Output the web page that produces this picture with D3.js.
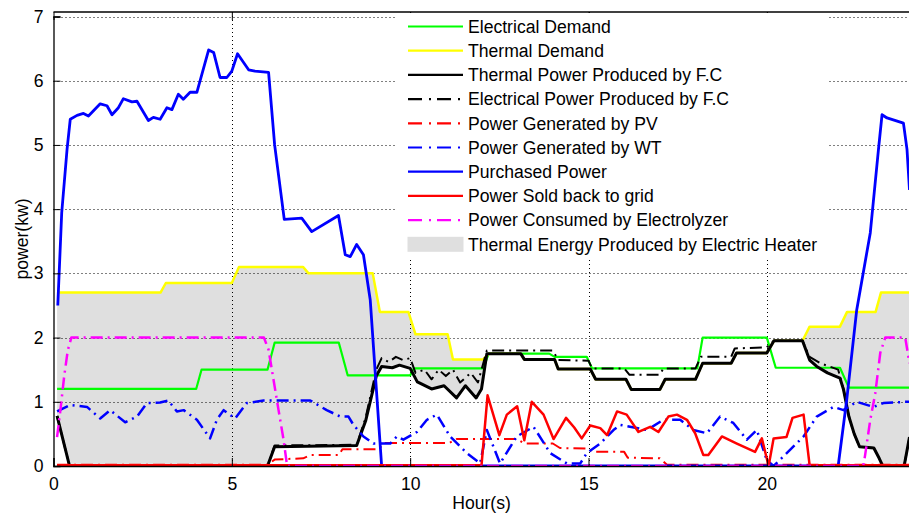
<!DOCTYPE html>
<html>
<head>
<meta charset="utf-8">
<script src="https://cdn.jsdelivr.net/npm/d3@7"></script>
<style>
  body { margin: 0; background: #fff; }
  svg { display: block; font-family: "Liberation Sans", Arial, sans-serif; }
</style>
</head>
<body>
<svg id="chart" width="909" height="514"></svg>
<script>
// values, [hour, kW]
var electricalDemand = [[0.1,1.2],[4.0,1.2],[4.15,1.5],[6.0,1.5],[6.2,1.92],[8.0,1.92],[8.25,1.41],[10.0,1.41],[10.1,1.52],[12.05,1.52],[12.2,1.75],[13.9,1.75],[14.05,1.7],[14.95,1.7],[15.1,1.52],[18.05,1.52],[18.2,2.0],[20.0,2.0],[20.25,1.53],[22.05,1.53],[22.3,1.22],[24,1.22]];
var thermalDemand = [[0.1,2.7],[3.0,2.7],[3.15,2.85],[5.0,2.85],[5.2,3.1],[7.0,3.1],[7.15,3.0],[8.95,3.0],[9.15,2.4],[9.95,2.4],[10.15,2.05],[11.05,2.05],[11.2,1.66],[12.05,1.66],[12.2,1.75],[13.1,1.75],[13.2,1.66],[14.05,1.66],[14.15,1.51],[15.05,1.51],[15.2,1.35],[16.05,1.35],[16.2,1.19],[17.0,1.19],[17.15,1.35],[18.0,1.35],[18.2,1.6],[19.0,1.6],[19.15,1.76],[20.0,1.76],[20.2,1.95],[21.0,1.95],[21.2,2.17],[22.05,2.17],[22.25,2.4],[23.05,2.4],[23.2,2.7],[24,2.7]];
var thermalFC = [[0.1,0.78],[0.18,0.6],[0.45,0],[6.0,0],[6.2,0.3],[8.5,0.32],[8.75,0.7],[9.05,1.4],[9.2,1.55],[9.5,1.53],[9.7,1.57],[10.0,1.52],[10.2,1.31],[10.6,1.2],[10.95,1.25],[11.3,1.06],[11.55,1.25],[11.85,1.06],[12.0,1.2],[12.15,1.75],[13.1,1.75],[13.2,1.66],[14.05,1.66],[14.15,1.51],[15.05,1.51],[15.2,1.35],[16.05,1.35],[16.2,1.19],[17.0,1.19],[17.15,1.35],[18.0,1.35],[18.2,1.6],[19.0,1.6],[19.15,1.76],[20.0,1.76],[20.2,1.95],[21.0,1.95],[21.2,1.65],[21.4,1.55],[21.7,1.45],[22.05,1.37],[22.15,1.19],[22.3,0.77],[22.45,0.5],[22.6,0.3],[23.0,0.28],[23.15,0.12],[23.25,0],[23.85,0],[24,0.45]];
var electricalFC = [[0.1,0.78],[0.18,0.6],[0.45,0],[6.0,0],[6.2,0.32],[8.5,0.33],[8.75,0.75],[9.05,1.5],[9.2,1.68],[9.4,1.62],[9.6,1.7],[9.8,1.65],[10.0,1.68],[10.15,1.45],[10.4,1.5],[10.6,1.35],[10.8,1.5],[11.0,1.4],[11.2,1.5],[11.4,1.3],[11.7,1.45],[11.9,1.3],[12.15,1.8],[14.0,1.8],[14.15,1.65],[15.0,1.64],[15.1,1.52],[16.0,1.52],[16.15,1.42],[17.0,1.42],[17.1,1.52],[18.0,1.52],[18.15,1.7],[19.0,1.7],[19.1,1.83],[20.0,1.85],[20.2,1.95],[21.0,1.95],[21.2,1.7],[21.5,1.6],[22.0,1.5],[22.15,1.2],[22.3,0.77],[22.45,0.5],[22.6,0.3],[23.0,0.28],[23.15,0.12],[23.25,0],[23.85,0],[24,0.45]];
var pvPower = [[0.1,0.02],[6.0,0.02],[6.2,0.1],[7.0,0.12],[7.2,0.17],[8.0,0.17],[8.1,0.26],[9.1,0.26],[9.3,0.36],[11.1,0.36],[11.3,0.42],[13.0,0.42],[13.2,0.35],[14.0,0.35],[14.2,0.28],[15.0,0.27],[15.1,0.22],[16.0,0.22],[16.1,0.13],[17.0,0.12],[17.2,0.02],[24,0.02]];
var wtPower = [[0.1,0.85],[0.47,0.95],[0.94,0.92],[1.31,0.74],[1.59,0.87],[2.01,0.68],[2.34,0.77],[2.62,0.98],[2.99,0.99],[3.22,1.02],[3.46,0.85],[3.65,0.87],[4.02,0.72],[4.39,0.43],[4.58,0.72],[4.77,0.87],[5.09,0.74],[5.42,0.98],[5.89,1.02],[7.2,1.02],[7.66,0.87],[8.04,0.77],[8.27,0.77],[8.41,0.64],[8.69,0.46],[8.97,0.35],[9.44,0.35],[9.63,0.46],[9.81,0.41],[10.19,0.53],[10.47,0.72],[10.75,0.8],[11.12,0.46],[11.59,0.2],[11.96,0.04],[12.15,0.56],[12.52,0.04],[12.99,0.46],[13.46,0.61],[13.93,0.2],[14.39,0.04],[14.77,0.04],[14.95,0.2],[15.33,0.35],[15.7,0.56],[15.89,0.64],[16.64,0.56],[17.1,0.72],[17.57,0.72],[17.94,0.56],[18.32,0.51],[18.69,0.77],[19.06,0.67],[19.44,0.41],[19.72,0.56],[20.0,0.09],[20.19,0],[20.65,0.25],[21.03,0.46],[21.4,0.77],[21.87,0.92],[22.15,0.87],[22.52,1.0],[22.99,0.92],[23.27,0.98],[23.92,1.0],[24,1.0]];
var purchased = [[0.12,2.5],[0.23,3.94],[0.38,4.93],[0.47,5.4],[0.66,5.46],[0.84,5.49],[0.98,5.45],[1.31,5.64],[1.5,5.61],[1.64,5.47],[1.82,5.58],[1.96,5.72],[2.2,5.67],[2.34,5.68],[2.66,5.38],[2.8,5.43],[2.99,5.4],[3.18,5.58],[3.32,5.55],[3.5,5.79],[3.64,5.71],[3.83,5.82],[4.02,5.82],[4.35,6.48],[4.49,6.44],[4.67,6.05],[4.86,6.05],[5.0,6.15],[5.16,6.42],[5.47,6.17],[5.65,6.15],[6.03,6.13],[6.2,5.0],[6.47,3.84],[6.96,3.86],[7.24,3.65],[7.99,3.9],[8.18,3.29],[8.32,3.26],[8.5,3.45],[8.69,3.29],[8.88,2.59],[9.2,0],[22.0,0],[22.24,1.03],[22.52,2.43],[22.9,3.63],[23.13,4.93],[23.23,5.47],[23.37,5.42],[23.83,5.34],[23.93,4.93],[24,4.3]];
var soldBack = [[0.1,0.01],[12.0,0.01],[12.17,1.1],[12.5,0.48],[12.71,0.8],[13.0,0.93],[13.2,0.4],[13.41,1.0],[13.74,0.8],[14.02,0.42],[14.37,0.75],[14.6,0.6],[14.81,0.43],[15.05,0.63],[15.33,0.59],[15.52,0.48],[15.8,0.85],[16.07,0.8],[16.4,0.53],[16.73,0.61],[16.96,0.53],[17.24,0.77],[17.48,0.8],[17.76,0.72],[17.99,0.51],[18.22,0.17],[18.36,0.17],[18.74,0.46],[19.16,0.35],[19.67,0.22],[19.86,0.43],[20.05,0],[20.19,0.43],[20.55,0.45],[20.72,0.75],[21.03,0.8],[21.2,0.01],[24,0.01]];
var electrolyzer = [[0.1,0.45],[0.2,0.9],[0.3,1.4],[0.4,1.8],[0.5,2.0],[5.9,2.0],[6.03,1.81],[6.17,1.34],[6.31,0.87],[6.45,0.41],[6.55,0],[22.7,0],[22.75,0.15],[22.9,0.72],[23.04,1.13],[23.18,1.76],[23.32,2.0],[23.88,2.0],[24,1.6]];

var xTicks = [0, 5, 10, 15, 20];
var yTicks = [0, 1, 2, 3, 4, 5, 6, 7];

var legendLabels = ["Electrical Demand", "Thermal Demand", "Thermal Power Produced by F.C",
  "Electrical Power Produced by F.C", "Power Generated by PV", "Power Generated by WT",
  "Purchased Power", "Power Sold back to grid", "Power Consumed by Electrolyzer",
  "Thermal Energy Produced by Electric Heater"];

// series in plotting order, styles kept apart from the values
var series = [
  { data: electricalDemand, color: "#00ff00", width: 2.2, dash: null },
  { data: thermalDemand, color: "#ffff00", width: 2.5, dash: null },
  { data: thermalFC, color: "#000000", width: 3, dash: null },
  { data: electricalFC, color: "#000000", width: 2, dash: "12,5,2,5" },
  { data: pvPower, color: "#ff0000", width: 2, dash: "12,5,2,5" },
  { data: wtPower, color: "#0000ff", width: 2.5, dash: "12,5,2,5" },
  { data: purchased, color: "#0000ff", width: 2.8, dash: null },
  { data: soldBack, color: "#ff0000", width: 2.5, dash: null },
  { data: electrolyzer, color: "#ff00ff", width: 2.5, dash: "12,5,2,5" }
];

var svg = d3.select("#chart");

// plot box (names avoid window.top)
var boxLeft = 53.5, boxRight = 909.5, boxTop = 12, boxBottom = 466;
var fontSize = "17.6px";

var x = d3.scaleLinear().domain([0, 24]).range([boxLeft, boxRight]);
var y = d3.scaleLinear().domain([0, 7]).range([boxBottom, 16.5]);

svg.append("defs").append("clipPath").attr("id", "plotclip")
  .append("rect")
  .attr("x", boxLeft).attr("y", boxTop)
  .attr("width", boxRight - boxLeft).attr("height", boxBottom - boxTop);

let g = svg.append("g");

// grey area between thermal demand and thermal power of the fuel cell
let ring = thermalDemand.concat(thermalFC.slice().reverse());
g.append("path")
  .attr("clip-path", "url(#plotclip)")
  .attr("d", d3.line().x(function (d) { return x(d[0]); }).y(function (d) { return y(d[1]); })(ring) + "Z")
  .style("fill", "#dfdfdf")
  .style("stroke", "none");

// dotted grid
g.selectAll(".vgrid")
  .data(xTicks.filter(function (d) { return d > 0; }))
  .enter().append("line")
  .attr("x1", function (d) { return Math.round(x(d)) + 0.5; })
  .attr("x2", function (d) { return Math.round(x(d)) + 0.5; })
  .attr("y1", boxTop).attr("y2", boxBottom)
  .style("stroke", "#000")
  .style("stroke-width", 1)
  .style("stroke-dasharray", "1,3");

g.selectAll(".hgrid")
  .data(yTicks.filter(function (d) { return d > 0; }))
  .enter().append("line")
  .attr("x1", boxLeft).attr("x2", boxRight)
  .attr("y1", function (d) { return Math.round(y(d)) + 0.5; })
  .attr("y2", function (d) { return Math.round(y(d)) + 0.5; })
  .style("stroke", "#000")
  .style("stroke-width", 1)
  .style("stroke-dasharray", "1,3");

// the lines
let line = d3.line()
  .x(function (d) { return x(d[0]); })
  .y(function (d) { return y(d[1]); });

g.selectAll(".series")
  .data(series)
  .enter().append("path")
  .attr("clip-path", "url(#plotclip)")
  .attr("d", function (d) { return line(d.data); })
  .style("fill", "none")
  .style("stroke", function (d) { return d.color; })
  .style("stroke-width", function (d) { return d.width; })
  .style("stroke-dasharray", function (d) { return d.dash; })
  .style("stroke-linejoin", "round");

// axes, matlab style: ticks pointing inwards
svg.append("g")
  .attr("transform", "translate(0," + boxBottom + ")")
  .call(d3.axisBottom(x).tickValues(xTicks).tickSize(-8).tickPadding(12).tickFormat(d3.format("d")));

svg.append("g")
  .attr("transform", "translate(" + boxLeft + ",0)")
  .call(d3.axisLeft(y).tickValues(yTicks).tickSize(-7).tickPadding(10).tickFormat(d3.format("d")));

// top ticks
svg.append("g")
  .attr("transform", "translate(0," + boxTop + ")")
  .call(d3.axisTop(x).tickValues(xTicks).tickSize(-8).tickFormat(""))
  .select(".domain").remove();

svg.selectAll(".tick text").style("font-size", fontSize).style("font-family", "Liberation Sans, Arial, sans-serif").attr("fill", "#000");
svg.selectAll(".domain").style("stroke", "#000").style("stroke-width", 1.3);
svg.selectAll(".tick line").style("stroke", "#000");

// top border
svg.append("line")
  .attr("x1", boxLeft).attr("x2", boxRight)
  .attr("y1", boxTop).attr("y2", boxTop)
  .style("stroke", "#000").style("stroke-width", 1.3);

// axis titles
svg.append("text")
  .attr("x", (boxLeft + boxRight) / 2)
  .attr("y", 509)
  .attr("text-anchor", "middle")
  .attr("font-size", fontSize)
  .text("Hour(s)");

svg.append("text")
  .attr("transform", "translate(28," + (boxTop + boxBottom) / 2 + ") rotate(-90)")
  .attr("text-anchor", "middle")
  .attr("font-size", fontSize)
  .text("power(kw)");

// legend
let lg = svg.append("g");
lg.append("rect")
  .attr("x", 397).attr("y", boxTop + 1)
  .attr("width", 431).attr("height", 247)
  .style("fill", "#fff");

let rowY = function (i) { return 26.5 + i * 24.2; };

lg.selectAll(".lgline")
  .data(series)
  .enter().append("line")
  .attr("x1", 408).attr("x2", 463)
  .attr("y1", function (d, i) { return rowY(i); })
  .attr("y2", function (d, i) { return rowY(i); })
  .style("stroke", function (d) { return d.color; })
  .style("stroke-width", 2.2)
  .style("stroke-dasharray", function (d) { return d.dash ? "14,7,2,6" : null; });

lg.append("rect")
  .attr("x", 407.5).attr("y", rowY(9) - 7.5)
  .attr("width", 56).attr("height", 15)
  .style("fill", "#dfdfdf");

lg.selectAll(".lgtext")
  .data(legendLabels)
  .enter().append("text")
  .attr("x", 468)
  .attr("y", function (d, i) { return rowY(i); })
  .attr("dy", "0.36em")
  .attr("font-size", fontSize)
  .text(function (d) { return d; });
</script>
</body>
</html>
